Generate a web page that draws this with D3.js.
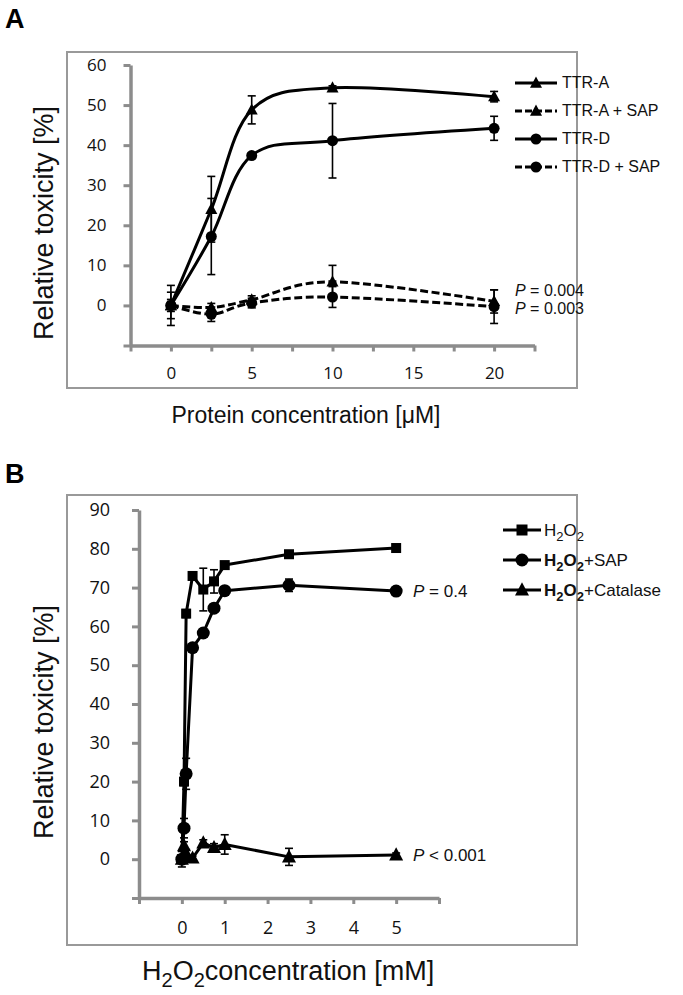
<!DOCTYPE html>
<html>
<head>
<meta charset="utf-8">
<script src="https://cdn.jsdelivr.net/npm/d3@7"></script>
<style>
  body { margin: 0; background: #fff; }
  svg { display: block; }
</style>
</head>
<body>
<script>
// ---------- Panel A data ----------
const concA = [0, 2.5, 5, 10, 20];
const ttrA      = [0, 24.0, 48.8, 54.3, 52.1];
const ttrAErr   = [1.5, 8.2, 3.5, 0.5, 1.3];
const ttrASap   = [0, -0.5, 1.4, 5.9, 1.0];
const ttrASapErr= [3.3, 1.0, 1.0, 4.1, 2.9];
const ttrD      = [0, 17.2, 37.4, 41.1, 44.2];
const ttrDErr   = [1.0, 9.5, 0.7, 9.3, 3.0];
const ttrDSap   = [0, -2.2, 0.6, 2.1, -0.3];
const ttrDSapErr= [5.0, 1.8, 1.2, 2.6, 4.2];
const legendA = ["TTR-A", "TTR-A + SAP", "TTR-D", "TTR-D + SAP"];
const yTicksA = [-10, 0, 10, 20, 30, 40, 50, 60];
const xTicksA = [-2.5, 0, 2.5, 5, 7.5, 10, 12.5, 15, 17.5, 20, 22.5];
const xLabelsA = [0, 5, 10, 15, 20];

// ---------- Panel B data ----------
const concB = [0, 0.05, 0.1, 0.25, 0.5, 0.75, 1, 2.5, 5];
const h2o2        = [0, 20.0, 63.3, 73.0, 69.5, 71.6, 75.8, 78.6, 80.2];
const h2o2Err     = [0.5, 1.0, 1.0, 0.5, 5.5, 3.0, 0.5, 0.8, 0.5];
const h2o2Sap     = [0, 8.0, 22.0, 54.5, 58.3, 64.7, 69.2, 70.6, 69.1];
const h2o2SapErr  = [1.0, 2.5, 4.0, 1.0, 1.0, 1.0, 1.0, 1.6, 0.8];
const h2o2Cat     = [0, 3.5, 1.5, 0.3, 4.2, 3.0, 3.8, 0.6, 1.1];
const h2o2CatErr  = [2.0, 1.0, 1.0, 0.5, 0.8, 1.0, 2.5, 2.2, 0.5];
const yTicksB = [-10, 0, 10, 20, 30, 40, 50, 60, 70, 80, 90];
const xTicksB = [-1, 0, 1, 2, 3, 4, 5, 6];
const xLabelsB = [0, 1, 2, 3, 4, 5];

const AXIS_COL = "#8c8c8c";
const TICK_FONT = "'Open Sans', sans-serif";
const TITLE_FONT = "'Liberation Sans', Arial, sans-serif";

const svg = d3.select("body").append("svg").attr("width", 683).attr("height", 995);
svg.append("rect").attr("width", 683).attr("height", 995).attr("fill", "#fff");

function styleAxis(g, fs) {
  g.select(".domain").attr("stroke", AXIS_COL).attr("stroke-width", 3.5);
  g.selectAll(".tick line").attr("stroke", AXIS_COL).attr("stroke-width", 3);
  g.selectAll("text").attr("font-family", TICK_FONT).attr("font-size", fs).attr("fill", "#111");
}

function marker(g, type, x, y, s) {
  if (type === "tri") {
    const h = s * 0.95;
    g.append("path")
      .attr("d", `M${x},${y - h * 0.62}L${x + s / 2 + 0.5},${y + h * 0.45}L${x - s / 2 - 0.5},${y + h * 0.45}Z`)
      .attr("fill", "#000");
  } else if (type === "circ") {
    g.append("circle").attr("cx", x).attr("cy", y).attr("r", s / 2).attr("fill", "#000");
  } else {
    g.append("rect").attr("x", x - s / 2).attr("y", y - s / 2).attr("width", s).attr("height", s).attr("fill", "#000");
  }
}

function drawSeries(g, xs, ys, errs, xS, yS, opt) {
  const pts = xs.map((x, i) => [xS(x), yS(ys[i])]);
  const line = d3.line().curve(opt.smooth ? d3.curveCardinal.tension(0) : d3.curveLinear);
  g.append("path").attr("d", line(pts)).attr("fill", "none").attr("stroke", "#000")
    .attr("stroke-width", 3).attr("stroke-dasharray", opt.dash ? "8,3.5" : null)
    .attr("stroke-linejoin", "round");
  xs.forEach((x, i) => {
    const px = xS(x), y1 = yS(ys[i] + errs[i]), y0 = yS(ys[i] - errs[i]);
    g.append("line").attr("x1", px).attr("x2", px).attr("y1", y1).attr("y2", y0)
      .attr("stroke", "#000").attr("stroke-width", 1.6);
    [y1, y0].forEach(yy => g.append("line").attr("x1", px - 4).attr("x2", px + 4)
      .attr("y1", yy).attr("y2", yy).attr("stroke", "#000").attr("stroke-width", 1.6));
  });
  xs.forEach((x, i) => marker(g, opt.mk, xS(x), yS(ys[i]), opt.size));
}

// ================= PANEL A =================
svg.append("text").attr("x", 5).attr("y", 28).text("A")
  .attr("font-family", TITLE_FONT).attr("font-weight", "bold").attr("font-size", 27).attr("fill", "#000");
svg.append("rect").attr("x", 67).attr("y", 52).attr("width", 510).attr("height", 336)
  .attr("fill", "none").attr("stroke", "#999").attr("stroke-width", 2);

const xA = d3.scaleLinear().domain([-2.5, 22.5]).range([130.5, 534.5]);
const yA = d3.scaleLinear().domain([-10, 60]).range([345.5, 65]);

const gAy = svg.append("g").attr("transform", `translate(${xA(-2.5)},0)`)
  .call(d3.axisLeft(yA).tickValues(yTicksA).tickFormat(d => d < 0 ? "" : d)
    .tickSize(7).tickPadding(17).tickSizeOuter(0));
styleAxis(gAy, 17);
const gAx = svg.append("g").attr("transform", `translate(0,${yA(-10)})`)
  .call(d3.axisBottom(xA).tickValues(xTicksA).tickFormat(d => xLabelsA.includes(d) ? d : "")
    .tickSize(6).tickPadding(15).tickSizeOuter(0));
styleAxis(gAx, 17);

const pA = svg.append("g");
drawSeries(pA, concA, ttrDSap, ttrDSapErr, xA, yA, { smooth: true, dash: true, mk: "circ", size: 11 });
drawSeries(pA, concA, ttrASap, ttrASapErr, xA, yA, { smooth: true, dash: true, mk: "tri", size: 11 });
drawSeries(pA, concA, ttrD, ttrDErr, xA, yA, { smooth: true, dash: false, mk: "circ", size: 11 });
drawSeries(pA, concA, ttrA, ttrAErr, xA, yA, { smooth: true, dash: false, mk: "tri", size: 11 });

// legend A
const legA = svg.append("g");
const legAStyle = [{ dash: false, mk: "tri" }, { dash: true, mk: "tri" }, { dash: false, mk: "circ" }, { dash: true, mk: "circ" }];
legendA.forEach((name, i) => {
  const y = 83 + i * 28;
  legA.append("line").attr("x1", 515).attr("x2", 557).attr("y1", y).attr("y2", y)
    .attr("stroke", "#000").attr("stroke-width", 3).attr("stroke-dasharray", legAStyle[i].dash ? "7,3" : null);
  marker(legA, legAStyle[i].mk, 536, y, 11);
  legA.append("text").attr("x", 562).attr("y", y + 5).text(name)
    .attr("font-family", TITLE_FONT).attr("font-size", 16).attr("fill", "#111");
});

function pText(x, y, rest, fs) {
  const t = svg.append("text").attr("x", x).attr("y", y)
    .attr("font-family", TITLE_FONT).attr("font-size", fs).attr("fill", "#111");
  t.append("tspan").attr("font-style", "italic").text("P");
  t.append("tspan").text(rest);
}
pText(515, 296, " = 0.004", 16);
pText(515, 314, " = 0.003", 16);

svg.append("text").attr("transform", `translate(53,223) rotate(-90)`).attr("text-anchor", "middle")
  .text("Relative toxicity [%]").attr("font-family", TITLE_FONT).attr("font-size", 27).attr("fill", "#111");
svg.append("text").attr("x", 306).attr("y", 423).attr("text-anchor", "middle")
  .text("Protein concentration [μM]").attr("font-family", TITLE_FONT).attr("font-size", 23).attr("fill", "#111");

// ================= PANEL B =================
svg.append("text").attr("x", 5).attr("y", 483).text("B")
  .attr("font-family", TITLE_FONT).attr("font-weight", "bold").attr("font-size", 27).attr("fill", "#000");
svg.append("rect").attr("x", 67).attr("y", 495).attr("width", 510).attr("height", 450)
  .attr("fill", "none").attr("stroke", "#999").attr("stroke-width", 2);

const xB = d3.scaleLinear().domain([-1, 6]).range([139, 439]);
const yB = d3.scaleLinear().domain([-10, 90]).range([898, 510]);

const gBy = svg.append("g").attr("transform", `translate(${xB(-1)},0)`)
  .call(d3.axisLeft(yB).tickValues(yTicksB).tickFormat(d => d < 0 ? "" : d)
    .tickSize(7).tickPadding(22).tickSizeOuter(0));
styleAxis(gBy, 18);
const gBx = svg.append("g").attr("transform", `translate(0,${yB(-10)})`)
  .call(d3.axisBottom(xB).tickValues(xTicksB).tickFormat(d => xLabelsB.includes(d) ? d : "")
    .tickSize(6).tickPadding(17).tickSizeOuter(0));
styleAxis(gBx, 18);

const pB = svg.append("g");
drawSeries(pB, concB, h2o2Cat, h2o2CatErr, xB, yB, { smooth: false, dash: false, mk: "tri", size: 13 });
drawSeries(pB, concB, h2o2Sap, h2o2SapErr, xB, yB, { smooth: false, dash: false, mk: "circ", size: 13 });
drawSeries(pB, concB, h2o2, h2o2Err, xB, yB, { smooth: false, dash: false, mk: "sq", size: 10 });

// legend B
const legB = svg.append("g");
const legBItems = [{ mk: "sq", size: 11, bold: false, suffix: "" }, { mk: "circ", size: 13, bold: true, suffix: "+SAP" }, { mk: "tri", size: 13, bold: true, suffix: "+Catalase" }];
legBItems.forEach((it, i) => {
  const y = 530 + i * 30;
  legB.append("line").attr("x1", 503).attr("x2", 541).attr("y1", y).attr("y2", y)
    .attr("stroke", "#000").attr("stroke-width", 3);
  marker(legB, it.mk, 522, y, it.size);
  const t = legB.append("text").attr("x", 544).attr("y", y + 6)
    .attr("font-family", TITLE_FONT).attr("font-size", 17).attr("fill", "#111");
  const w = it.bold ? "bold" : "normal";
  t.append("tspan").attr("font-weight", w).text("H");
  t.append("tspan").attr("font-weight", w).attr("font-size", 13).attr("dy", 5).text("2");
  t.append("tspan").attr("font-weight", w).attr("dy", -5).text("O");
  t.append("tspan").attr("font-weight", w).attr("font-size", 13).attr("dy", 5).text("2");
  if (it.suffix) t.append("tspan").attr("dy", -5).text(it.suffix);
});

pText(413, 597, " = 0.4", 17);
pText(413, 861, " < 0.001", 17);

svg.append("text").attr("transform", `translate(53,722) rotate(-90)`).attr("text-anchor", "middle")
  .text("Relative toxicity [%]").attr("font-family", TITLE_FONT).attr("font-size", 27).attr("fill", "#111");
const xtB = svg.append("text").attr("x", 142).attr("y", 980)
  .attr("font-family", TITLE_FONT).attr("font-size", 27).attr("fill", "#111");
xtB.append("tspan").text("H");
xtB.append("tspan").attr("font-size", 20).attr("dy", 7).text("2");
xtB.append("tspan").attr("dy", -7).text("O");
xtB.append("tspan").attr("font-size", 20).attr("dy", 7).text("2");
xtB.append("tspan").attr("dy", -7).text("concentration [mM]");
</script>
</body>
</html>
